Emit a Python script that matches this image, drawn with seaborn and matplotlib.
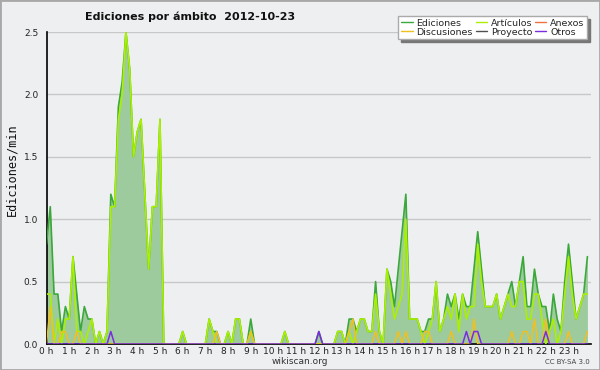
import numpy as np
import pandas as pd
import matplotlib
matplotlib.use("Agg")
import matplotlib.pyplot as plt
from matplotlib.ticker import MultipleLocator, AutoMinorLocator, FuncFormatter
from matplotlib.patches import Rectangle
import seaborn as sns

# --- DATOS (ediciones/min, un valor cada 10 minutos) ---
ediciones = [
    0.8, 1.1, 0.4, 0.4, 0.1, 0.3, 0.2, 0.7, 0.4, 0.1, 0.3, 0.2,   # 0 h - 1 h
    0.2, 0.0, 0.1, 0.0, 0.1, 1.2, 1.1, 1.9, 2.1, 2.5, 2.2, 1.5,   # 2 h - 3 h
    1.7, 1.8, 1.2, 0.6, 1.1, 1.1, 1.8, 0.0, 0.0, 0.0, 0.0, 0.0,   # 4 h - 5 h
    0.1, 0.0, 0.0, 0.0, 0.0, 0.0, 0.0, 0.2, 0.1, 0.1, 0.0, 0.0,   # 6 h - 7 h
    0.1, 0.0, 0.2, 0.2, 0.0, 0.0, 0.2, 0.0, 0.0, 0.0, 0.0, 0.0,   # 8 h - 9 h
    0.0, 0.0, 0.0, 0.1, 0.0, 0.0, 0.0, 0.0, 0.0, 0.0, 0.0, 0.0,   # 10 h - 11 h
    0.1, 0.0, 0.0, 0.0, 0.0, 0.1, 0.1, 0.0, 0.2, 0.2, 0.1, 0.2,   # 12 h - 13 h
    0.2, 0.1, 0.1, 0.5, 0.1, 0.0, 0.6, 0.5, 0.3, 0.6, 0.9, 1.2,   # 14 h - 15 h
    0.2, 0.2, 0.2, 0.1, 0.1, 0.2, 0.2, 0.5, 0.1, 0.2, 0.4, 0.3,   # 16 h - 17 h
    0.4, 0.2, 0.4, 0.3, 0.3, 0.6, 0.9, 0.6, 0.3, 0.3, 0.3, 0.4,   # 18 h - 19 h
    0.2, 0.3, 0.4, 0.5, 0.3, 0.5, 0.7, 0.3, 0.3, 0.6, 0.4, 0.3,   # 20 h - 21 h
    0.3, 0.1, 0.4, 0.2, 0.1, 0.5, 0.8, 0.5, 0.2, 0.3, 0.4, 0.7,   # 22 h - 23 h
]
articulos = [
    0.4, 0.4, 0.0, 0.2, 0.0, 0.2, 0.2, 0.7, 0.1, 0.1, 0.0, 0.1,
    0.2, 0.0, 0.1, 0.0, 0.1, 1.1, 1.1, 1.8, 2.0, 2.5, 2.2, 1.5,
    1.7, 1.8, 1.2, 0.6, 1.1, 1.1, 1.8, 0.0, 0.0, 0.0, 0.0, 0.0,
    0.1, 0.0, 0.0, 0.0, 0.0, 0.0, 0.0, 0.2, 0.1, 0.0, 0.0, 0.0,
    0.1, 0.0, 0.2, 0.2, 0.0, 0.0, 0.1, 0.0, 0.0, 0.0, 0.0, 0.0,
    0.0, 0.0, 0.0, 0.1, 0.0, 0.0, 0.0, 0.0, 0.0, 0.0, 0.0, 0.0,
    0.0, 0.0, 0.0, 0.0, 0.0, 0.1, 0.1, 0.0, 0.1, 0.0, 0.1, 0.2,
    0.2, 0.1, 0.1, 0.4, 0.1, 0.0, 0.6, 0.4, 0.2, 0.3, 0.4, 1.0,
    0.2, 0.2, 0.2, 0.1, 0.0, 0.1, 0.2, 0.5, 0.1, 0.2, 0.3, 0.2,
    0.4, 0.1, 0.4, 0.2, 0.3, 0.3, 0.8, 0.5, 0.3, 0.3, 0.3, 0.4,
    0.2, 0.3, 0.4, 0.3, 0.3, 0.5, 0.5, 0.2, 0.2, 0.4, 0.4, 0.2,
    0.0, 0.1, 0.2, 0.0, 0.1, 0.4, 0.7, 0.4, 0.2, 0.3, 0.4, 0.4,
]
discusiones = [0.0] * 144
for k, v in {1: 0.3, 4: 0.1, 5: 0.1, 8: 0.1, 45: 0.1, 54: 0.1, 80: 0.1, 81: 0.2,
             87: 0.1, 93: 0.1, 95: 0.1, 100: 0.1, 101: 0.1, 107: 0.1, 113: 0.2,
             123: 0.1, 126: 0.1, 127: 0.1, 129: 0.2, 132: 0.2, 138: 0.1, 143: 0.1}.items():
    discusiones[k] = v
otros = [0.0] * 144
for k, v in {17: 0.1, 72: 0.1, 111: 0.1, 113: 0.1, 114: 0.1, 132: 0.1}.items():
    otros[k] = v

horas = np.arange(144) / 6.0

df = pd.DataFrame({"hora": horas, "Ediciones": ediciones, "Artículos": articulos,
                   "Discusiones": discusiones, "Otros": otros})

# --- ESTILO ---
BG = "#eeeff1"
sns.set_theme(style="white")
plt.rcParams["font.family"] = ["DejaVu Sans"]

fig = plt.figure(figsize=(6, 3.7), dpi=100, facecolor=BG)
ax = fig.add_axes([46.5 / 600, 26 / 370, (591.2 - 46.5) / 600, (344 - 32) / 370])
ax.set_facecolor(BG)

colores = {
    "Ediciones": "#3aa83a",
    "Artículos": "#aaf000",
    "Anexos": "#f07040",
    "Discusiones": "#f0c020",
    "Proyecto": "#505050",
    "Otros": "#7a2ce0",
}

ax.fill_between(df["hora"], df["Ediciones"], color="#9ecb9e", lw=0, zorder=2)
sns.lineplot(data=df, x="hora", y="Ediciones", color=colores["Ediciones"], lw=1.2, ax=ax, zorder=3)
sns.lineplot(data=df, x="hora", y="Artículos", color=colores["Artículos"], lw=1.2, ax=ax, zorder=4)
sns.lineplot(data=df, x="hora", y="Discusiones", color=colores["Discusiones"], lw=1.1, ax=ax, zorder=5)
sns.lineplot(data=df, x="hora", y="Otros", color=colores["Otros"], lw=1.1, ax=ax, zorder=6)

ax.set_xlim(0, 24)
ax.set_ylim(0, 2.5)
ax.set_xlabel("")
ax.set_ylabel("")

ax.yaxis.set_major_locator(MultipleLocator(0.5))
ax.yaxis.set_minor_locator(AutoMinorLocator(4))
ax.yaxis.set_major_formatter(FuncFormatter(lambda v, p: f"{v:.1f}"))
ax.xaxis.set_major_locator(MultipleLocator(1))
ax.xaxis.set_minor_locator(MultipleLocator(1 / 6))
ax.xaxis.set_major_formatter(FuncFormatter(lambda v, p: f"{int(round(v))} h" if v < 23.5 else ""))

ax.tick_params(axis="both", which="both", direction="out", color="black", width=1,
               labelsize=6.5, labelcolor="#222222", pad=1)
ax.tick_params(axis="y", which="major", length=5)
ax.tick_params(axis="y", which="minor", length=3)
ax.tick_params(axis="x", which="both", length=4)
ax.tick_params(axis="x", which="major", pad=-1.5)

ax.grid(axis="y", which="major", color="#c8c8c8", lw=1)
ax.grid(axis="x", visible=False)
for s in ["top", "right"]:
    ax.spines[s].set_visible(False)
for s in ["left", "bottom"]:
    ax.spines[s].set_color("black")
    ax.spines[s].set_linewidth(1.2)

# leyenda (orden por columnas para que quede como en la imagen)
orden = ["Ediciones", "Discusiones", "Artículos", "Proyecto", "Anexos", "Otros"]
handles = [plt.Line2D([], [], color=colores[n], lw=1) for n in orden]
leg = fig.legend(handles, orden, ncol=3, loc="upper right", bbox_to_anchor=(592 / 600, 1 - 11 / 370),
                 fontsize=6.8, frameon=True, fancybox=False, shadow={"color": "#777777", "alpha": 1},
                 handlelength=1.2, handletextpad=0.4, columnspacing=0.3, labelspacing=0.0,
                 borderpad=0.3, edgecolor="#aaaaaa", facecolor="white", framealpha=1)
leg.get_frame().set_linewidth(1)

fig.text(85 / 600, 1 - 17 / 370, "Ediciones por ámbito  2012-10-23", fontsize=8,
         fontweight="bold", va="center", ha="left", color="#111111")
fig.text(12 / 600, 1 - 170 / 370, "Ediciones/min", rotation=90, fontsize=8.5,
         family="DejaVu Sans Mono", va="center", ha="center", color="#111111")
fig.text(300 / 600, 1 - 362 / 370, "wikiscan.org", fontsize=6.5, ha="center", va="center", color="#333333")
fig.text(590 / 600, 1 - 362 / 370, "CC BY-SA 3.0", fontsize=5, ha="right", va="center", color="#444444")

fig.patches.append(Rectangle((0, 0), 1, 1, transform=fig.transFigure, fill=False,
                             edgecolor="#a8a8a8", lw=2, zorder=10))

plt.savefig("out.png", dpi=100, facecolor=BG)
